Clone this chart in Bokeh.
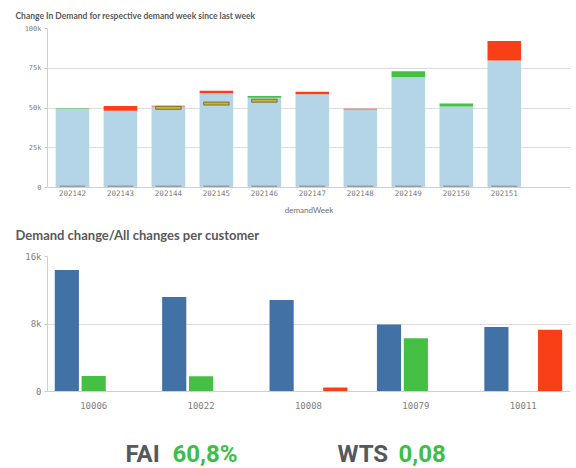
import numpy as np
from bokeh.plotting import figure
from bokeh.layouts import column
from bokeh.models import Range1d, FixedTicker, Label, ColumnDataSource, Title
from bokeh.transform import dodge
from bokeh.embed import file_html
from bokeh.resources import INLINE

# ---------------- data: top chart ----------------
weeks = ["202142", "202143", "202144", "202145", "202146",
         "202147", "202148", "202149", "202150", "202151"]
base_demand = [49600, 48200, 51000, 59200, 56500, 58600, 49000, 69300, 51000, 79800]
increase = [300, 0, 0, 0, 1100, 0, 0, 3800, 1800, 0]
decrease = [0, 3100, 400, 1700, 0, 1600, 600, 0, 0, 12400]
last_week = [None, None, 50100, 52800, 54600, None, None, None, None, None]
baseline_qty = [1300, 1300, 1300, 1300, 1300, 1300, 1300, 1300, 1300, 1300]
top_ticks = [0, 25000, 50000, 75000, 100000]
top_tick_labels = ["0", "25k", "50k", "75k", "100k"]

# ---------------- data: bottom chart ----------------
customers = ["10006", "10022", "10008", "10079", "10011"]
all_changes = [14400, 11200, 10850, 7950, 7640]
increases = [1830, 1800, 0, 6300, 0]
decreases = [40, 40, 470, 40, 7320]
bottom_ticks = [0, 8000, 16000]
bottom_tick_labels = ["0", "8k", "16k"]

# ---------------- KPIs ----------------
kpi_names = ["FAI", "WTS"]
kpi_values = ["60,8%", "0,08"]

LIGHT_BLUE = "#b4d4e8"
RED = "#f93f17"
GREEN = "#45c045"
DARK_BLUE = "#4271a6"
AXIS_TXT = "#808080"
TITLE_CLR = "#595959"
GRID = "#dcdcdc"

# ================= top figure =================
wx = np.arange(len(weeks))
bd = np.array(base_demand, dtype=float)
src1 = ColumnDataSource(dict(
    x=wx, base=bd,
    inc_top=bd + np.array(increase), dec_top=bd + np.array(decrease),
    gray=np.array(baseline_qty),
))

p1 = figure(width=576, height=249, x_range=Range1d(-0.52, 10.38),
            y_range=Range1d(0, 100000), output_backend="svg",
            toolbar_location=None, min_border_left=47, min_border_right=6,
            min_border_top=27, min_border_bottom=0)
p1.title.text = "Change In Demand for respective demand week since last week"
p1.title.text_font = "Lato"
p1.title.text_font_size = "8.5px"
p1.title.text_font_style = "bold"
p1.title.text_color = TITLE_CLR
p1.title.align = "left"
p1.title.offset = -32
p1.title.standoff = 16

p1.vbar(x="x", top="base", bottom=0, width=0.7, source=src1,
        fill_color=LIGHT_BLUE, line_color=None)
p1.vbar(x="x", top="inc_top", bottom="base", width=0.7, source=src1,
        fill_color=GREEN, line_color=None)
p1.vbar(x="x", top="dec_top", bottom="base", width=0.7, source=src1,
        fill_color=RED, line_color=None)
p1.vbar(x="x", top="gray", bottom=0, width=0.54, source=src1,
        fill_color="#9c9c9c", line_color=None)

lw_x = [i for i, v in enumerate(last_week) if v is not None]
lw_y = [v for v in last_week if v is not None]
p1.rect(x=lw_x, y=lw_y, width=0.53, height=3, height_units="screen",
        fill_color="#c9b42a", line_color="#6e6128", line_width=0.8)

p1.xaxis.ticker = FixedTicker(ticks=list(wx))
p1.xaxis.major_label_overrides = {int(i): w for i, w in zip(wx, weeks)}
p1.yaxis.ticker = FixedTicker(ticks=top_ticks)
p1.yaxis.major_label_overrides = {t: l for t, l in zip(top_ticks, top_tick_labels)}
for ax in (p1.xaxis, p1.yaxis):
    ax.major_label_text_font = "DejaVu Sans Mono"
    ax.major_label_text_color = AXIS_TXT
    ax.minor_tick_line_color = None
    ax.axis_line_color = "#d0d0d0"
p1.xaxis.major_label_text_font_size = "7.5px"
p1.yaxis.major_label_text_font_size = "7px"
p1.xaxis.major_tick_line_color = None
p1.xaxis.major_tick_out = 0
p1.xaxis.major_tick_in = 0
p1.xaxis.major_label_standoff = 2
p1.yaxis.major_tick_out = 3
p1.yaxis.major_tick_in = 0
p1.yaxis.major_tick_line_color = "#c8c8c8"
p1.yaxis.major_label_standoff = 3
p1.xaxis.axis_label = "demandWeek"
p1.xaxis.axis_label_text_font = "Lato"
p1.xaxis.axis_label_text_font_style = "normal"
p1.xaxis.axis_label_text_font_size = "8px"
p1.xaxis.axis_label_text_color = "#707070"
p1.xaxis.axis_label_standoff = 6
p1.xgrid.grid_line_color = None
p1.ygrid.grid_line_color = GRID
p1.outline_line_color = None

# title of the second chart, placed below the first chart's axis
p1.add_layout(Title(text="Demand change/All changes per customer",
                    text_font="Lato", text_font_size="13px",
                    text_font_style="bold", text_color=TITLE_CLR,
                    align="left", offset=-32, standoff=14), "below")

# ================= bottom figure =================
cx = np.arange(len(customers))
src2 = ColumnDataSource(dict(x=cx, all=all_changes, inc=increases, dec=decreases))

p2 = figure(width=576, height=165, x_range=Range1d(-0.43, 4.44),
            y_range=Range1d(0, 16000), output_backend="svg",
            toolbar_location=None, min_border_left=47, min_border_right=6,
            min_border_top=7, min_border_bottom=23)

p2.vbar(x=dodge("x", -0.25, range=p2.x_range), top="all", width=0.225,
        source=src2, fill_color=DARK_BLUE, line_color=None)
p2.vbar(x=dodge("x", 0.0, range=p2.x_range), top="inc", width=0.225,
        source=src2, fill_color=GREEN, line_color=None)
p2.vbar(x=dodge("x", 0.25, range=p2.x_range), top="dec", width=0.225,
        source=src2, fill_color=RED, line_color=None)

p2.xaxis.ticker = FixedTicker(ticks=list(cx))
p2.xaxis.major_label_overrides = {int(i): c for i, c in zip(cx, customers)}
p2.yaxis.ticker = FixedTicker(ticks=bottom_ticks)
p2.yaxis.major_label_overrides = {t: l for t, l in zip(bottom_ticks, bottom_tick_labels)}
for ax in (p2.xaxis, p2.yaxis):
    ax.major_label_text_font = "DejaVu Sans Mono"
    ax.major_label_text_color = AXIS_TXT
    ax.major_label_text_font_size = "9px"
    ax.minor_tick_line_color = None
    ax.axis_line_color = "#d0d0d0"
p2.xaxis.major_tick_line_color = None
p2.xaxis.major_tick_out = 0
p2.xaxis.major_tick_in = 0
p2.xaxis.major_label_standoff = 10
p2.yaxis.major_tick_out = 3
p2.yaxis.major_tick_in = 0
p2.yaxis.major_tick_line_color = "#c8c8c8"
p2.yaxis.major_label_standoff = 3
p2.xgrid.grid_line_color = None
p2.ygrid.grid_line_color = GRID
p2.outline_line_color = None

# ================= KPI strip =================
# the column aligns this frame with the charts above (pixels 47..570)
p3 = figure(width=576, height=54, x_range=Range1d(47, 570), y_range=Range1d(0, 54),
            output_backend="svg", toolbar_location=None,
            x_axis_location=None, y_axis_location=None,
            min_border_left=47, min_border_right=6, min_border_top=0, min_border_bottom=0)
p3.grid.visible = False
p3.outline_line_color = None
name_x = [125, 337]
val_x = [172, 398]
for nm, vl, nx, vx in zip(kpi_names, kpi_values, name_x, val_x):
    p3.add_layout(Label(x=nx, y=15, text=nm, text_font="Roboto",
                        text_font_size="24px", text_font_style="bold",
                        text_color="#55585c", text_baseline="alphabetic"))
    p3.add_layout(Label(x=vx, y=15, text=vl, text_font="Roboto",
                        text_font_size="24px", text_font_style="bold",
                        text_color="#3cbf48", text_baseline="alphabetic"))

layout = column(p1, p2, p3)
open("out.html", "w").write(file_html(layout, INLINE))
